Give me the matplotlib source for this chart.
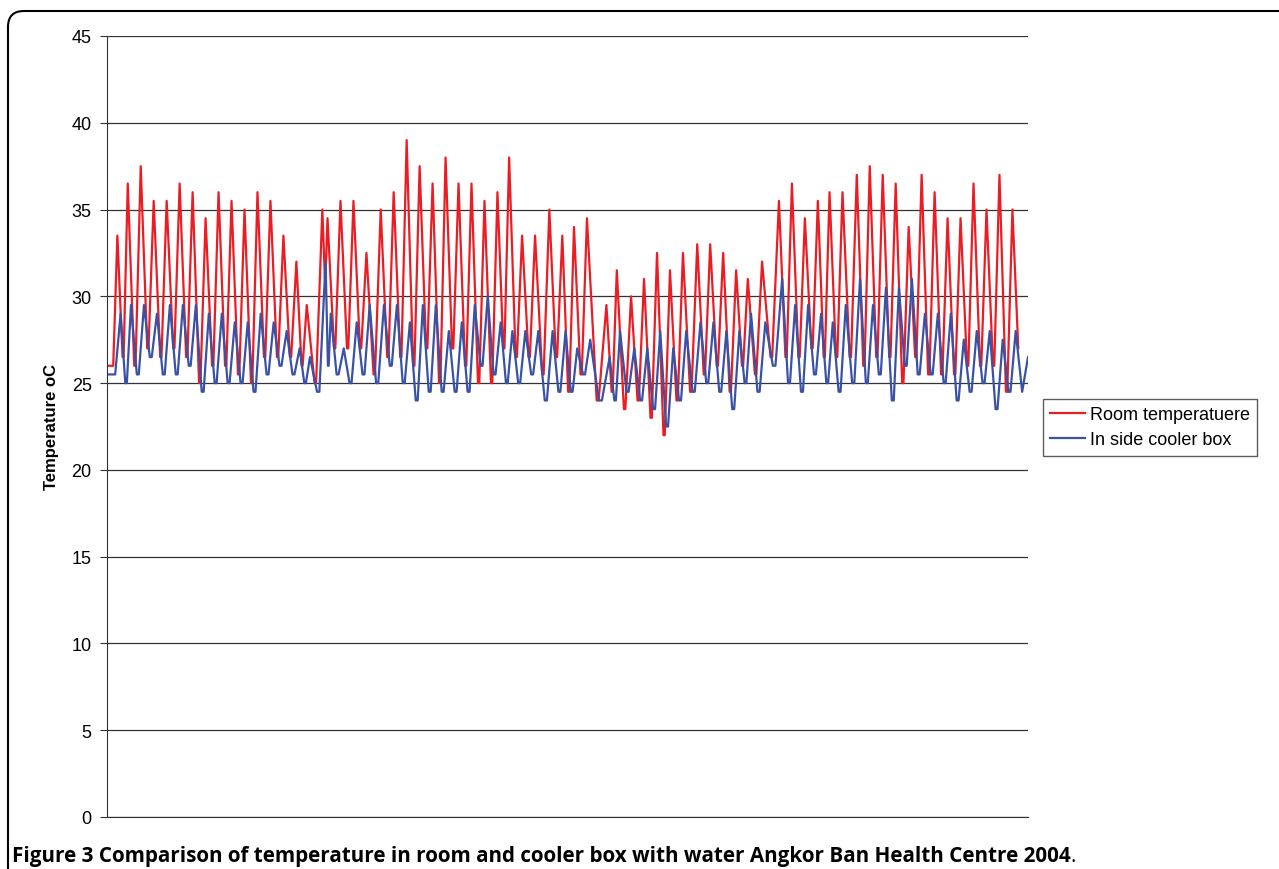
import matplotlib.pyplot as plt
from matplotlib.patches import FancyBboxPatch
from matplotlib.transforms import IdentityTransform

# daily maxima, time in days from start of the record
peak_day = [0.8, 1.6, 2.6, 3.6, 4.6, 5.6, 6.6, 7.6, 8.6, 9.6,
            10.6, 11.6, 12.6, 13.6, 14.6, 15.4, 16.6, 17.0, 18.0, 19.0,
            20.0, 21.1, 22.1, 23.1, 24.1, 25.1, 26.1, 27.1, 28.1, 29.1,
            30.1, 31.0, 32.0, 33.0, 34.1, 35.1, 36.0, 37.0, 38.5, 39.3,
            40.4, 41.4, 42.4, 43.4, 44.4, 45.5, 46.5, 47.5, 48.5, 49.4,
            50.5, 51.8, 52.8, 53.8, 54.8, 55.7, 56.7, 57.8, 58.8, 59.8,
            60.8, 61.8, 62.8, 63.8, 64.8, 65.8, 66.8, 67.8, 68.8, 69.8]

room_peak = [33.5, 36.5, 37.5, 35.5, 35.5, 36.5, 36, 34.5, 36, 35.5,
             35, 36, 35.5, 33.5, 32, 29.5, 35, 34.5, 35.5, 35.5,
             32.5, 35, 36, 39, 37.5, 36.5, 38, 36.5, 36.5, 35.5,
             36, 38, 33.5, 33.5, 35, 33.5, 34, 34.5, 29.5, 31.5,
             30, 31, 32.5, 31.5, 32.5, 33, 33, 32.5, 31.5, 31,
             32, 35.5, 36.5, 34.5, 35.5, 36, 36, 37, 37.5, 37,
             36.5, 34, 37, 36, 34.5, 34.5, 36.5, 35, 37, 35]
# minimum reached before each maximum
room_low = [26, 26.5, 26, 27, 26.5, 27, 26.5, 25, 26, 26,
            25.5, 25, 26.5, 26.5, 26.5, 26, 25, 31, 27, 27,
            27, 25.5, 26.5, 26.5, 26, 27, 25, 27, 26, 25,
            25, 27, 26.5, 26.5, 25.5, 26.5, 24.5, 25.5, 24, 24.5,
            23.5, 24, 23, 22, 24, 24.5, 25.5, 26, 24.5, 26,
            25.5, 26.5, 26.5, 26.5, 27, 26.5, 26.5, 26.5, 26, 26.5,
            26.5, 25, 26.5, 25.5, 25.5, 25.5, 26, 26, 26, 24.5]
room_end = 27

cooler_peak = [29, 29.5, 29.5, 29, 29.5, 29.5, 29.5, 29, 29, 28.5,
               28.5, 29, 28.5, 28, 27, 26.5, 32, 29, 27, 28.5,
               29.5, 29.5, 29.5, 28.5, 29.5, 29.5, 28, 28.5, 29.5, 30,
               28.5, 28, 28, 28, 28, 28, 27, 27.5, 26.5, 28,
               27, 27, 28, 27, 28, 28.5, 28.5, 28, 28, 29,
               28.5, 31, 29.5, 29.5, 29, 28.5, 29.5, 31, 29.5, 30.5,
               30.5, 31, 29, 29, 29, 27.5, 28, 28, 27.5, 28]
cooler_low = [25.5, 25, 25.5, 26.5, 25.5, 25.5, 26, 24.5, 25, 25,
              25, 24.5, 25.5, 26, 25.5, 25, 24.5, 26, 25.5, 25,
              25.5, 25, 26, 25, 24, 24.5, 24.5, 24.5, 24.5, 26,
              25.5, 25, 25, 25.5, 24, 24.5, 24.5, 25.5, 24, 24,
              24.5, 24, 23.5, 22.5, 24, 24.5, 25, 24.5, 23.5, 25,
              24.5, 26, 25, 24.5, 25.5, 25, 24.5, 25, 25, 25.5,
              24, 26, 25.5, 25.5, 25, 24, 24.5, 25, 23.5, 24.5]
cooler_end = [24.5, 26.5]

labels = ["Room temperatuere", "In side cooler box"]
caption = "Figure 3 Comparison of temperature in room and cooler box with water Angkor Ban Health Centre 2004"

# build the traces: short night minimum, then the daytime peak
rx, ry = [0.0], [room_low[0]]
prev = 0.0
for t, lo, hi in zip(peak_day, room_low, room_peak):
    gap = t - prev
    rx += [prev + 0.5 * gap, t - 0.4 * gap, t]
    ry += [lo, lo, hi]
    prev = t
rx.append(prev + 0.45)
ry.append(room_end)

bx, by = [0.0], [cooler_low[0]]
prev = 0.0
for t, lo, hi in zip(peak_day, cooler_low, cooler_peak):
    tb = t + 0.25
    gap = tb - prev
    bx += [prev + 0.45 * gap, prev + 0.6 * gap, tb]
    by += [lo, lo, hi]
    prev = tb
bx += [prev + 0.5, 71.0]
by += cooler_end

plt.rcParams['font.family'] = ['Liberation Sans', 'DejaVu Sans']

fig = plt.figure(figsize=(12.79, 8.70), dpi=100)
ax = fig.add_axes([107 / 1279, 52 / 870, 921 / 1279, 781 / 870])

ax.plot(rx, ry, color='#ec1c24', lw=1.6, label=labels[0])
ax.plot(bx, by, color='#3a52a5', lw=1.6, label=labels[1])

ax.set_xlim(0, 71)
ax.set_ylim(0, 45)
ax.set_yticks(range(0, 46, 5))
ax.set_xticks([])
ax.yaxis.grid(True, color='#333333', lw=0.9)
ax.set_axisbelow(True)
for s in ['top', 'right']:
    ax.spines[s].set_visible(False)
ax.spines['left'].set_color('#333333')
ax.spines['bottom'].set_color('#333333')
ax.tick_params(axis='y', length=5, pad=6, labelsize=13, color='#333333')
ax.set_ylabel("Temperature oC", fontsize=12, fontweight='bold', labelpad=9)

leg = fig.legend(loc='upper left', bbox_to_anchor=(1043 / 1279, 1 - 400 / 870),
                 fontsize=13, frameon=True, fancybox=False, edgecolor='#333333',
                 borderaxespad=0, handlelength=1.9, handletextpad=0.3,
                 labelspacing=0.45, borderpad=0.4)
leg.get_frame().set_linewidth(1.0)

cap_font = ['Open Sans', 'DejaVu Sans']
cap = fig.text(12 / 1279, 1 - 857 / 870, caption, fontsize=14.9, fontweight='bold',
               family=cap_font, va='center')
ax.annotate(".", xy=(1, 0.5), xycoords=cap, va='center', ha='left', fontsize=14.9,
            family=cap_font)

border = FancyBboxPatch((8, -60), 1400, 870 - 12 + 60, boxstyle="round,pad=0,rounding_size=16",
                        transform=IdentityTransform(), fill=False, edgecolor='black', lw=1.5)
fig.patches.append(border)

fig.savefig("out.png", dpi=100)
